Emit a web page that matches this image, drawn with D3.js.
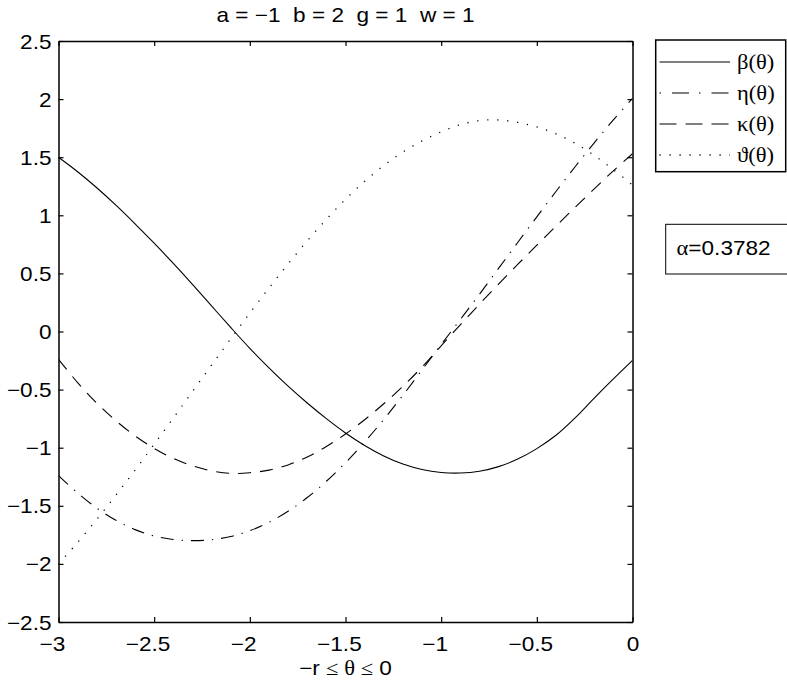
<!DOCTYPE html>
<html>
<head>
<meta charset="utf-8">
<script src="https://cdn.jsdelivr.net/npm/d3@7/dist/d3.min.js"></script>
<style>
  html, body { margin: 0; padding: 0; background: #fff; }
  svg { display: block; }
</style>
</head>
<body>
<script>
// Sample grid over -r <= theta <= 0
const theta = [-3.0, -2.9, -2.8, -2.7, -2.6, -2.5, -2.4, -2.3, -2.2, -2.1,
               -2.0, -1.9, -1.8, -1.7, -1.6, -1.5, -1.4, -1.3, -1.2, -1.1,
               -1.0, -0.9, -0.8, -0.7, -0.6, -0.5, -0.4, -0.3, -0.2, -0.1, 0.0];

const betaVals = [1.500, 1.375, 1.237, 1.087, 0.927, 0.760, 0.586, 0.406, 0.220, 0.035,
                  -0.145, -0.313, -0.470, -0.615, -0.750, -0.873, -0.981, -1.071, -1.141, -1.188,
                  -1.213, -1.218, -1.203, -1.163, -1.098, -1.008, -0.893, -0.743, -0.573, -0.408, -0.248];

const etaVals = [-1.240, -1.390, -1.520, -1.625, -1.705, -1.760, -1.790, -1.800, -1.792, -1.764,
                 -1.714, -1.642, -1.547, -1.429, -1.289, -1.129, -0.951, -0.757, -0.549, -0.331,
                 -0.112, 0.103, 0.320, 0.543, 0.766, 0.987, 1.205, 1.418, 1.624, 1.821, 2.007];

const kappaVals = [-0.240, -0.440, -0.616, -0.768, -0.898, -1.006, -1.092, -1.156, -1.199, -1.221,
                   -1.215, -1.193, -1.148, -1.080, -0.990, -0.882, -0.759, -0.622, -0.472, -0.306,
                   -0.123, 0.058, 0.235, 0.408, 0.577, 0.743, 0.907, 1.068, 1.227, 1.383, 1.530];

const varthetaVals = [-2.000, -1.815, -1.617, -1.409, -1.193, -0.971, -0.745, -0.517, -0.289, -0.063,
                      0.159, 0.374, 0.582, 0.780, 0.965, 1.138, 1.293, 1.428, 1.545, 1.640,
                      1.718, 1.780, 1.815, 1.820, 1.800, 1.760, 1.701, 1.620, 1.515, 1.393, 1.260];

const seriesNames = ["β(θ)", "η(θ)", "κ(θ)", "ϑ(θ)"];
const xTickValues = [-3, -2.5, -2, -1.5, -1, -0.5, 0];
const yTickValues = [-2.5, -2, -1.5, -1, -0.5, 0, 0.5, 1, 1.5, 2, 2.5];
const titleText = "a = −1  b = 2  g = 1  w = 1";
const alphaText = "α=0.3782";

// ---- layout ----
const W = 787, H = 682;
const plot = { left: 58.5, right: 632.5, top: 41, bottom: 622 };
const SX = 1.13;              // horizontal text stretch
const FS = 20;                // font size
const SANS = "'Liberation Sans', Arial, Helvetica, sans-serif";
const SERIF = "'Liberation Serif', 'DejaVu Serif', 'Times New Roman', serif";

const svg = d3.select("body").append("svg")
  .attr("width", W).attr("height", H)
  .attr("viewBox", `0 0 ${W} ${H}`);

const x = d3.scaleLinear().domain([-3, 0]).range([plot.left, plot.right]);
const y = d3.scaleLinear().domain([-2.5, 2.5]).range([plot.bottom, plot.top]);

const fmt = d => (d < 0 ? "−" + String(Math.abs(d)) : String(d));

// ---- curves ----
const styles = [
  { vals: betaVals, dash: null, legendDash: null, width: 1.1 },
  { vals: etaVals, dash: "13,8,1.3,8", legendDash: "1.5,11,17,10", width: 1.1 },
  { vals: kappaVals, dash: "13,9", legendDash: "17,9", width: 1.1 },
  { vals: varthetaVals, dash: "1.2,8.8", legendDash: "1.2,8.8", width: 1.3 }
];

const line = d3.line()
  .x((d, i) => x(theta[i]))
  .y(d => y(d))
  .curve(d3.curveCatmullRom.alpha(0.5));

svg.append("clipPath").attr("id", "plotclip")
  .append("rect")
  .attr("x", plot.left).attr("y", plot.top)
  .attr("width", plot.right - plot.left).attr("height", plot.bottom - plot.top);

const curves = svg.append("g").attr("clip-path", "url(#plotclip)");
styles.forEach(s => {
  curves.append("path")
    .attr("d", line(s.vals))
    .attr("fill", "none")
    .attr("stroke", "#000")
    .attr("stroke-width", s.width)
    .attr("stroke-dasharray", s.dash);
});

// ---- axes (ticks inward on all four sides) ----
const TK = 5;
const gBottom = svg.append("g").attr("transform", `translate(0,${plot.bottom})`)
  .call(d3.axisBottom(x).tickValues(xTickValues).tickSizeInner(-TK).tickSizeOuter(0).tickFormat(fmt));
const gTop = svg.append("g").attr("transform", `translate(0,${plot.top})`)
  .call(d3.axisTop(x).tickValues(xTickValues).tickSizeInner(-TK).tickSizeOuter(0).tickFormat(""));
const gLeft = svg.append("g").attr("transform", `translate(${plot.left},0)`)
  .call(d3.axisLeft(y).tickValues(yTickValues).tickSizeInner(-TK).tickSizeOuter(0).tickFormat(fmt));
const gRight = svg.append("g").attr("transform", `translate(${plot.right},0)`)
  .call(d3.axisRight(y).tickValues(yTickValues).tickSizeInner(-TK).tickSizeOuter(0).tickFormat(""));

[gBottom, gTop, gLeft, gRight].forEach(g => {
  g.select(".domain").attr("stroke", "#000").attr("stroke-width", 1.5);
  g.selectAll(".tick line").attr("stroke", "#000").attr("stroke-width", 1.2);
});

// half the width of a minus sign, so that the digits sit centred on the tick
const probe = svg.append("text").attr("font-family", SANS).attr("font-size", FS).text("−");
const minusHalf = probe.node().getComputedTextLength() * SX / 2;
probe.remove();

gBottom.selectAll(".tick text")
  .attr("x", null).attr("y", null).attr("dy", null)
  .attr("fill", "#000")
  .attr("font-family", SANS).attr("font-size", FS)
  .attr("text-anchor", "middle")
  .attr("transform", d => `translate(${d < 0 ? -minusHalf : 0},29) scale(${SX},1)`);

gLeft.selectAll(".tick text")
  .attr("x", null).attr("y", null).attr("dy", null)
  .attr("fill", "#000")
  .attr("font-family", SANS).attr("font-size", FS)
  .attr("text-anchor", "end")
  .attr("transform", `translate(-7,7) scale(${SX},1)`);

// ---- stretched text helper ----
function label(parent, px, py, anchor) {
  return parent.append("text")
    .attr("transform", `translate(${px},${py}) scale(${SX},1)`)
    .attr("text-anchor", anchor)
    .attr("font-size", FS)
    .attr("fill", "#000")
    .style("white-space", "pre")
    .attr("xml:space", "preserve");
}

const midX = (plot.left + plot.right) / 2;

// title
label(svg, midX, 21.5, "middle").attr("font-family", SANS).text(titleText);

// x-axis label: −r ≤ θ ≤ 0
const xl = label(svg, midX, 675, "middle").attr("font-family", SANS);
xl.append("tspan").text("−r ");
xl.append("tspan").attr("font-family", SERIF).text("≤ θ ≤");
xl.append("tspan").text(" 0");

// ---- legend ----
const leg = svg.append("g");
leg.append("rect")
  .attr("x", 655.7).attr("y", 40).attr("width", 130).attr("height", 131.7)
  .attr("fill", "#fff").attr("stroke", "#000").attr("stroke-width", 1.5);

const rowY = [62, 93, 124, 155];
seriesNames.forEach((name, i) => {
  leg.append("line")
    .attr("x1", 659.5).attr("x2", 730).attr("y1", rowY[i]).attr("y2", rowY[i])
    .attr("stroke", "#000")
    .attr("stroke-width", styles[i].width)
    .attr("stroke-dasharray", styles[i].legendDash);
  label(leg, 737, rowY[i] + 7, "start").attr("font-family", SERIF).text(name);
});

// ---- alpha annotation box ----
svg.append("rect")
  .attr("x", 665.7).attr("y", 224.3).attr("width", 130).attr("height", 49.7)
  .attr("fill", "#fff").attr("stroke", "#000").attr("stroke-width", 1);
const al = label(svg, 676.5, 255, "start").attr("font-family", SANS);
al.append("tspan").attr("font-family", SERIF).text(alphaText.slice(0, 1));
al.append("tspan").text(alphaText.slice(1));
</script>
</body>
</html>
